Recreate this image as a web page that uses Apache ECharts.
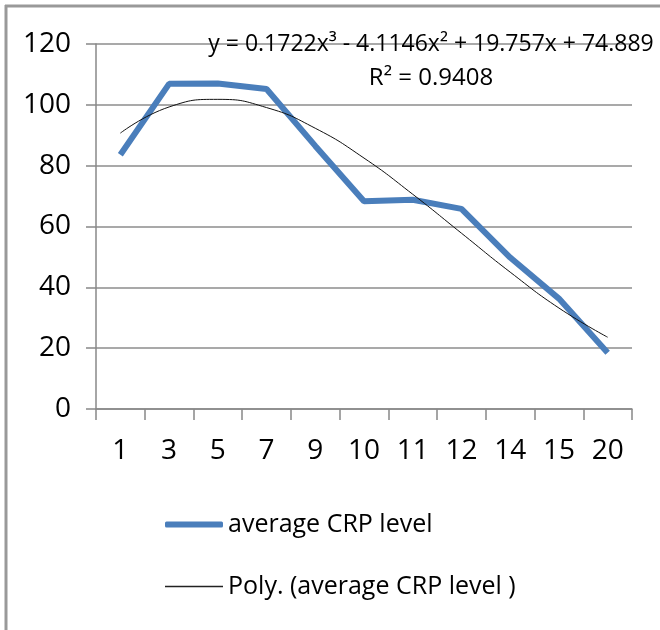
<!DOCTYPE html>
<html>
<head>
<meta charset="utf-8">
<script src="https://cdn.jsdelivr.net/npm/echarts@6/dist/echarts.min.js"></script>
<style>
  html, body { margin: 0; padding: 0; background: #fff; }
  #chart { width: 660px; height: 630px; }
</style>
</head>
<body>
<div id="chart"></div>
<script>
var categories = ['1', '3', '5', '7', '9', '10', '11', '12', '14', '15', '20'];
// average CRP level
var crpLevel = [83.6, 106.9, 107, 105.2, 86.5, 68.3, 68.8, 65.8, 49.8, 36.3, 18.5];
// polynomial trend line at each category
var polyTrend = [90.7, 99.3, 101.8, 99.1, 92.3, 82.5, 70.6, 57.8, 45.0, 33.2, 23.6];
var yTicks = { min: 0, max: 120, interval: 20 };

var fontName = "'Open Sans', 'Noto Sans', sans-serif";
var chart = echarts.init(document.getElementById('chart'));

var option = {
    animation: false,
    backgroundColor: '#fff',
    grid: { left: 96, right: 28, top: 44, bottom: 221 },
    xAxis: {
        type: 'category',
        data: categories,
        boundaryGap: true,
        axisLine: { lineStyle: { color: '#888', width: 1.5 } },
        axisTick: { show: true, length: 11, lineStyle: { color: '#888', width: 1.5 } },
        axisLabel: { color: '#000', fontSize: 28, fontFamily: fontName, margin: 28 }
    },
    yAxis: {
        type: 'value',
        min: yTicks.min,
        max: yTicks.max,
        interval: yTicks.interval,
        axisLine: { show: true, lineStyle: { color: '#888', width: 1.5 } },
        axisTick: { show: true, length: 10, lineStyle: { color: '#888', width: 1.5 } },
        axisLabel: { color: '#000', fontSize: 28, fontFamily: fontName, margin: 25 },
        splitLine: { lineStyle: { color: '#8c8c8c', width: 1.5 } }
    },
    legend: [{
        data: [{ name: 'average CRP level', icon: 'roundRect' }],
        left: 160, top: 507,
        itemWidth: 58, itemHeight: 6,
        textStyle: { color: '#000', fontSize: 25, fontFamily: fontName }
    }, {
        data: [{ name: 'Poly. (average CRP level )', icon: 'rect' }],
        left: 160, top: 569,
        itemWidth: 58, itemHeight: 1.5,
        textStyle: { color: '#000', fontSize: 25, fontFamily: fontName }
    }],
    series: [
        {
            name: 'average CRP level',
            type: 'line',
            data: crpLevel,
            symbol: 'none',
            lineStyle: { color: '#4a7ebb', width: 6 },
            itemStyle: { color: '#4a7ebb' },
            z: 2
        },
        {
            name: 'Poly. (average CRP level )',
            type: 'line',
            data: polyTrend,
            symbol: 'none',
            smooth: 0.5,
            lineStyle: { color: '#111', width: 1 },
            itemStyle: { color: '#222' },
            z: 3
        }
    ],
    graphic: [
        { type: 'line', shape: { x1: 5, y1: 6, x2: 660, y2: 6 }, style: { stroke: '#999', lineWidth: 3 } },
        { type: 'line', shape: { x1: 6, y1: 5, x2: 6, y2: 630 }, style: { stroke: '#999', lineWidth: 3 } },
        {
            type: 'text', x: 431, y: 44, z: 10,
            style: { text: 'y = 0.1722x\u00B3 - 4.1146x\u00B2 + 19.757x + 74.889', fill: '#000', align: 'center', verticalAlign: 'middle', font: "23px 'Open Sans', 'Noto Sans', sans-serif" }
        },
        {
            type: 'text', x: 431, y: 78, z: 10,
            style: { text: 'R\u00B2 = 0.9408', fill: '#000', align: 'center', verticalAlign: 'middle', font: "24px 'Open Sans', 'Noto Sans', sans-serif" }
        }
    ]
};

chart.setOption(option);
</script>
</body>
</html>
